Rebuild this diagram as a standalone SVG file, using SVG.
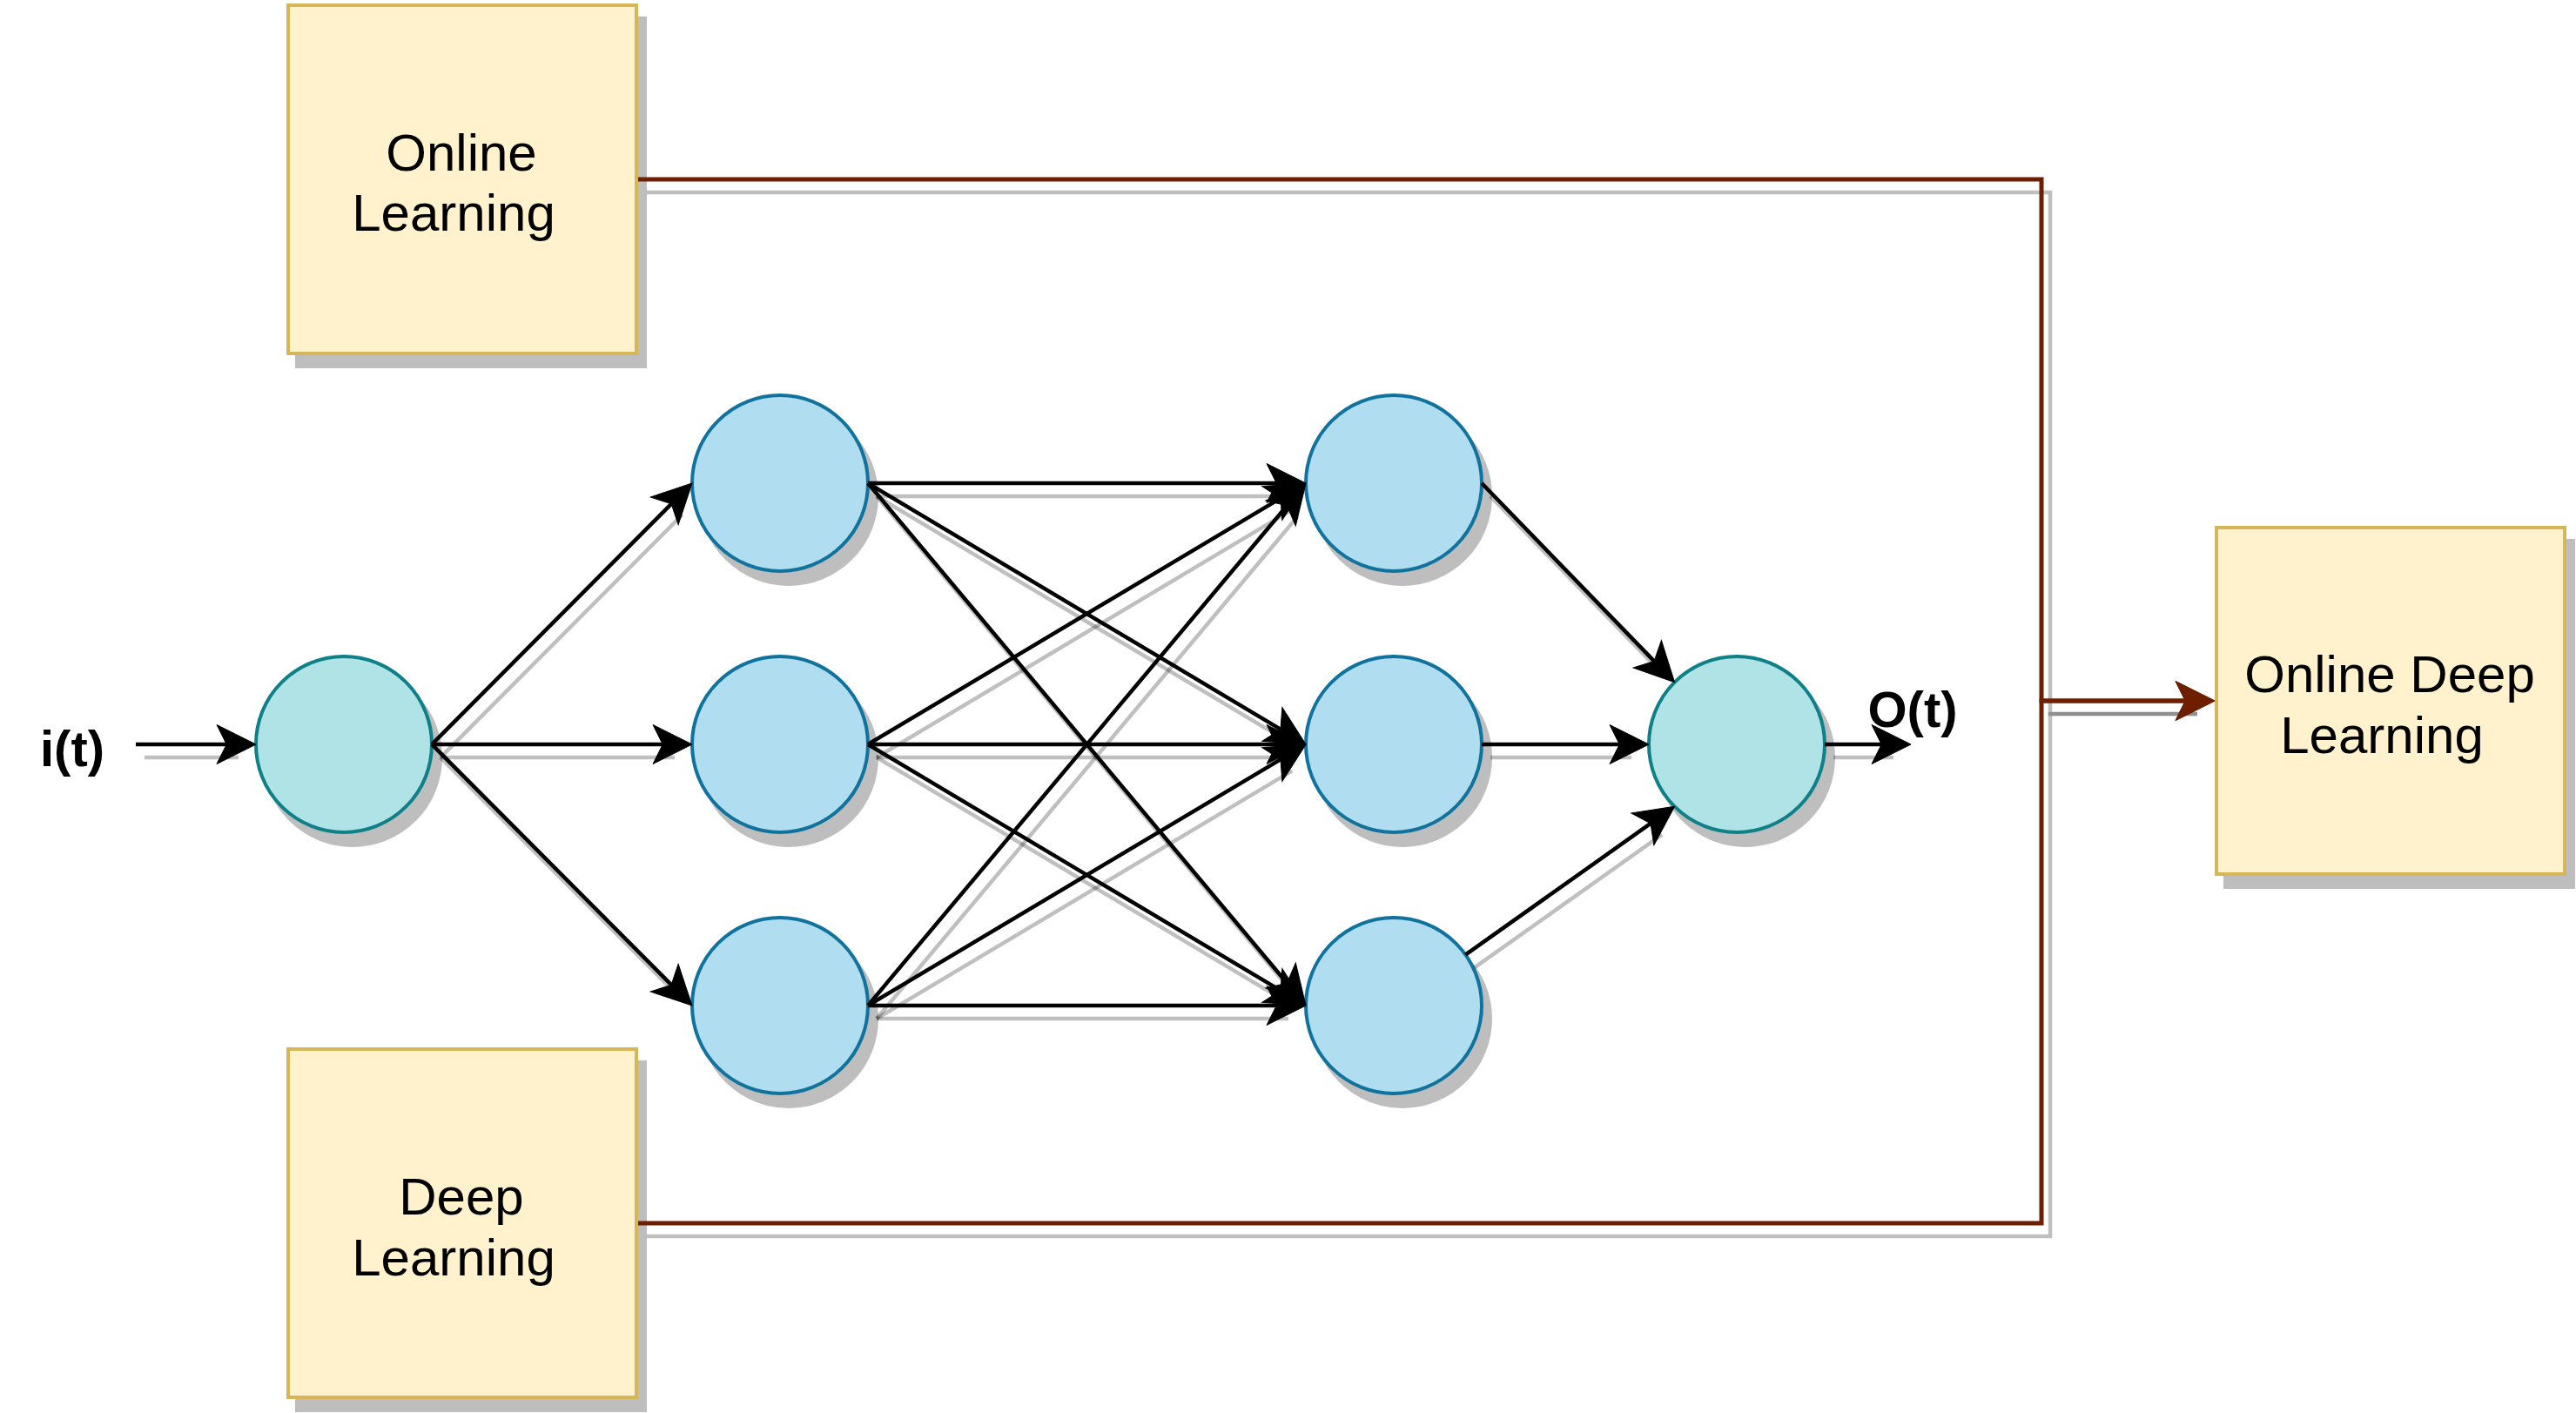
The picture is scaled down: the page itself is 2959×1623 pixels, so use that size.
<svg xmlns="http://www.w3.org/2000/svg" width="2959" height="1623" viewBox="0 0 2959 1623">
<style>
.box{fill:#fff2cc;stroke:#d6b656;stroke-width:4}
.io{fill:#b0e3e6;stroke:#0e8088;stroke-width:4}
.hid{fill:#b1ddf0;stroke:#10739e;stroke-width:4}
.shs{fill:#000;stroke:#000;stroke-width:4;opacity:.25}
.e{fill:none;stroke:#000;stroke-width:4.5;marker-end:url(#arr)}
.b{fill:none;stroke:#6d1f00;stroke-width:5;marker-end:url(#arrb)}
.es{fill:none;stroke:#000;stroke-opacity:.25;stroke-width:4.5}
.t{font-family:"Liberation Sans",Arial,Helvetica,sans-serif;font-size:60px;text-anchor:middle;fill:#000}
.bold{font-weight:bold;font-size:58px}
</style>
<defs>
<marker id="arr" markerUnits="userSpaceOnUse" viewBox="-50 -26 54 52" markerWidth="54" markerHeight="52" refX="-30" refY="0" orient="auto" overflow="visible">
<path d="M0,0 L-45,-22.5 L-33.75,0 L-45,22.5 Z" fill="#000" stroke="#000" stroke-width="1"/>
</marker>
<marker id="arrb" markerUnits="userSpaceOnUse" viewBox="-50 -26 54 52" markerWidth="54" markerHeight="52" refX="-30" refY="0" orient="auto" overflow="visible">
<path d="M0,0 L-45,-22.5 L-33.75,0 L-45,22.5 Z" fill="#6d1f00" stroke="#6d1f00" stroke-width="1"/>
</marker>
</defs>
<rect width="2959" height="1623" fill="#fff"/>

<g id="online-learning">
<rect class="shs" x="341" y="21" width="400" height="400"/>
<rect class="box" x="331" y="6" width="400" height="400"/>
<text class="t" x="530" y="196">Online</text>
<text class="t" x="521" y="265">Learning</text>
</g>
<g id="deep-learning">
<rect class="shs" x="341" y="1220" width="400" height="400"/>
<rect class="box" x="331" y="1205" width="400" height="400"/>
<text class="t" x="530" y="1395">Deep</text>
<text class="t" x="521" y="1465">Learning</text>
</g>
<g id="online-deep-learning">
<rect class="shs" x="2556" y="621" width="400" height="398"/>
<rect class="box" x="2546" y="606" width="400" height="398"/>
<text class="t" x="2745" y="795">Online Deep</text>
<text class="t" x="2736" y="865">Learning</text>
</g>

<g id="input-node">
<circle class="shs" cx="405" cy="870" r="101"/>
<circle class="io" cx="395" cy="855" r="101"/>
</g>
<g id="h1-top"><circle class="shs" cx="906" cy="570" r="101"/><circle class="hid" cx="896" cy="555" r="101"/></g>
<g id="h1-mid"><circle class="shs" cx="906" cy="870" r="101"/><circle class="hid" cx="896" cy="855" r="101"/></g>
<g id="h1-bot"><circle class="shs" cx="906" cy="1170" r="101"/><circle class="hid" cx="896" cy="1155" r="101"/></g>
<g id="h2-top"><circle class="shs" cx="1611" cy="570" r="101"/><circle class="hid" cx="1601" cy="555" r="101"/></g>
<g id="h2-mid"><circle class="shs" cx="1611" cy="870" r="101"/><circle class="hid" cx="1601" cy="855" r="101"/></g>
<g id="h2-bot"><circle class="shs" cx="1611" cy="1170" r="101"/><circle class="hid" cx="1601" cy="1155" r="101"/></g>
<g id="output-node">
<circle class="shs" cx="2005" cy="870" r="101"/>
<circle class="io" cx="1995" cy="855" r="101"/>
</g>

<g id="label-input"><text class="t bold" x="83" y="880">i(t)</text></g>
<g id="label-output"><text class="t bold" x="2197" y="835">O(t)</text></g>

<g id="connectors">
<g transform="translate(10,15)">
<path class="es" d="M156,855 L264,855"/>
<path class="es" d="M496,855 L773.8,576.2"/>
<path class="es" d="M496,855 L765,855"/>
<path class="es" d="M496,855 L773.8,1133.8"/>
<path class="es" d="M997,555 L1470,555"/>
<path class="es" d="M997,555 L1474.2,839.6"/>
<path class="es" d="M997,555 L1480.7,1132"/>
<path class="es" d="M997,855 L1474.2,570.4"/>
<path class="es" d="M997,855 L1470,855"/>
<path class="es" d="M997,855 L1474.2,1139.6"/>
<path class="es" d="M997,1155 L1480.7,578"/>
<path class="es" d="M997,1155 L1474.2,870.4"/>
<path class="es" d="M997,1155 L1470,1155"/>
<path class="es" d="M1702,555 L1902.7,762.1"/>
<path class="es" d="M1702,855 L1864,855"/>
<path class="es" d="M1683.4,1096.6 L1899.1,943.7"/>
<path class="es" d="M2096,855 L2165,855"/>
<path class="es" d="M733,206 L2345,206 L2345,805 L2514,805"/>
<path class="es" d="M733,1405 L2345,1405 L2345,805 L2514,805"/>
</g>
<path class="e" d="M156,855 L264,855"/>
<path class="e" d="M496,855 L773.8,576.2"/>
<path class="e" d="M496,855 L765,855"/>
<path class="e" d="M496,855 L773.8,1133.8"/>
<path class="e" d="M997,555 L1470,555"/>
<path class="e" d="M997,555 L1474.2,839.6"/>
<path class="e" d="M997,555 L1480.7,1132"/>
<path class="e" d="M997,855 L1474.2,570.4"/>
<path class="e" d="M997,855 L1470,855"/>
<path class="e" d="M997,855 L1474.2,1139.6"/>
<path class="e" d="M997,1155 L1480.7,578"/>
<path class="e" d="M997,1155 L1474.2,870.4"/>
<path class="e" d="M997,1155 L1470,1155"/>
<path class="e" d="M1702,555 L1902.7,762.1"/>
<path class="e" d="M1702,855 L1864,855"/>
<path class="e" d="M1683.4,1096.6 L1899.1,943.7"/>
<path class="e" d="M2096,855 L2165,855"/>
<path class="b" d="M733,206 L2345,206 L2345,805 L2514,805"/>
<path class="b" d="M733,1405 L2345,1405 L2345,805 L2514,805"/>
</g>
</svg>
